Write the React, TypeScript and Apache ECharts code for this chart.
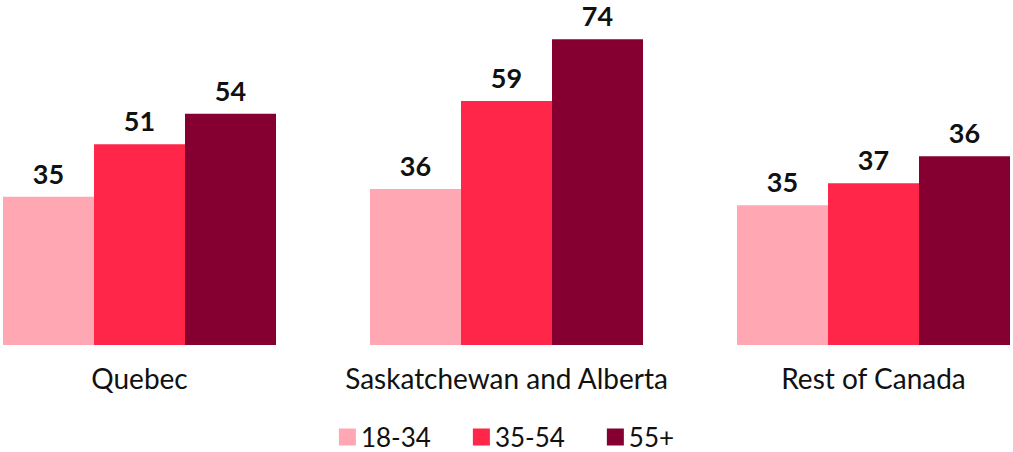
import React, { useEffect, useRef } from "react";
import * as echarts from "echarts";

const categories = ["Quebec", "Saskatchewan and Alberta", "Rest of Canada"];
const seriesNames = ["18-34", "35-54", "55+"];
const colors = ["#FFA8B4", "#FF2649", "#850030"];
// bar heights as drawn in the picture
const barValues = [
  [35.7, 37.6, 33.7],
  [48.4, 58.8, 39.0],
  [55.7, 73.7, 45.5],
];
// value labels as printed in the picture
const labelValues = [
  [35, 36, 35],
  [51, 59, 37],
  [54, 74, 36],
];

export default function App() {
  const ref = useRef<HTMLDivElement>(null);
  useEffect(() => {
    document.body.style.margin = "0";
    const chart = echarts.init(ref.current!, null, { renderer: "svg" });
    chart.setOption({
      animation: false,
      textStyle: { fontFamily: "Lato" },
      grid: { left: 0, right: 0, top: 13, bottom: 107 },
      legend: {
        top: 424,
        left: "center",
        padding: 0,
        itemWidth: 17,
        itemHeight: 17,
        itemGap: 42,
        icon: "rect",
        textStyle: { fontSize: 26, lineHeight: 26, color: "#111", fontFamily: "Lato" },
        data: seriesNames,
      },
      xAxis: {
        type: "category",
        data: categories,
        axisLine: { show: false },
        axisTick: { show: false },
        axisLabel: { interval: 0, fontSize: 28, color: "#111", margin: 19, fontFamily: "Lato" },
      },
      yAxis: { type: "value", min: 0, max: 80, show: false, splitLine: { show: false } },
      series: seriesNames.map((name, i) => ({
        name,
        type: "bar",
        barWidth: 91,
        barGap: "0%",
        itemStyle: { color: colors[i] },
        data: barValues[i],
        label: {
          show: true,
          position: "top",
          distance: 10,
          fontSize: 27,
          fontWeight: "bold",
          color: "#111",
          fontFamily: "Lato",
          formatter: (p: any) => String(labelValues[i][p.dataIndex]),
        },
      })),
    });
    return () => chart.dispose();
  }, []);
  return (
    <div style={{ width: 1013, height: 452, overflow: "hidden", position: "relative" }}>
      <div ref={ref} style={{ position: "absolute", left: -44, top: 0, width: 1101, height: 452 }} />
    </div>
  );
}
